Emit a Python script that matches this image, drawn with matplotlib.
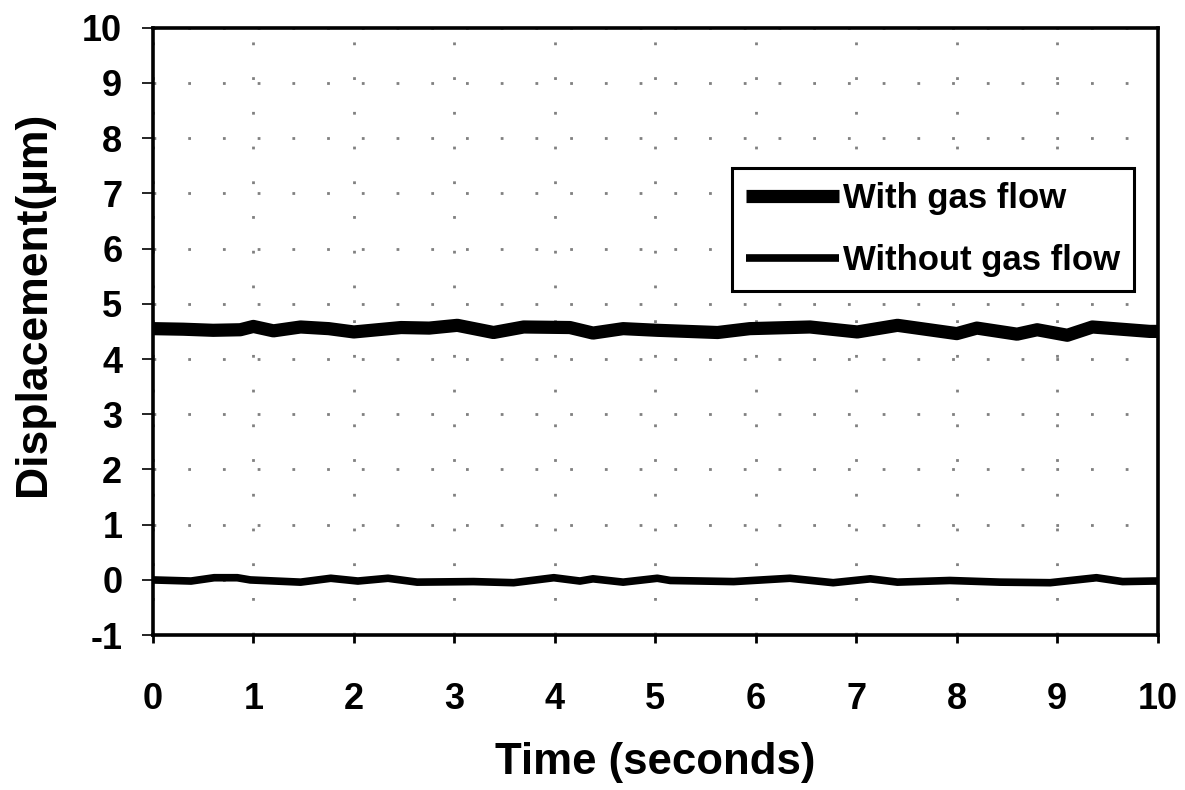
import numpy as np
import matplotlib.pyplot as plt

plt.rcParams['font.family'] = ['Liberation Sans', 'DejaVu Sans']
plt.rcParams['font.weight'] = 'bold'
plt.rcParams['axes.labelweight'] = 'bold'
plt.rcParams['axes.unicode_minus'] = False

# data
t_gas = [0.0, 0.3, 0.6, 0.87, 1.0, 1.2, 1.47, 1.75, 2.0, 2.47, 2.75, 3.03, 3.39,
         3.69, 4.15, 4.38, 4.68, 5.02, 5.62, 5.94, 6.54, 7.01, 7.41, 8.0, 8.2,
         8.6, 8.8, 9.1, 9.35, 9.92, 10.0]
d_gas = [4.55, 4.54, 4.52, 4.53, 4.59, 4.51, 4.58, 4.55, 4.49, 4.57, 4.56, 4.61, 4.48,
         4.58, 4.57, 4.47, 4.55, 4.52, 4.48, 4.55, 4.58, 4.49, 4.61, 4.46, 4.56,
         4.45, 4.53, 4.43, 4.58, 4.5, 4.5]

t_nogas = [0.0, 0.38, 0.61, 0.84, 0.97, 1.47, 1.77, 2.04, 2.34, 2.63, 3.19, 3.59,
           3.99, 4.25, 4.38, 4.68, 5.02, 5.15, 5.78, 6.34, 6.77, 7.14, 7.41, 7.93,
           8.43, 8.93, 9.39, 9.65, 9.95, 10.0]
d_nogas = [0.0, -0.02, 0.04, 0.04, 0.0, -0.04, 0.03, -0.02, 0.03, -0.04, -0.03, -0.05,
           0.04, -0.02, 0.02, -0.04, 0.03, -0.01, -0.03, 0.03, -0.05, 0.02, -0.04, -0.01,
           -0.04, -0.05, 0.04, -0.03, -0.02, -0.02]

xticks = np.arange(0, 11, 1)
yticks = np.arange(-1, 11, 1)

fig = plt.figure(figsize=(11.85, 7.9), dpi=100)
ax = fig.add_axes([0.129, 0.196, 0.848, 0.769])

ax.plot(t_gas, d_gas, color='black', lw=9.5, solid_joinstyle='round',
        solid_capstyle='butt', label='With gas flow')
ax.plot(t_nogas, d_nogas, color='black', lw=5.5, solid_joinstyle='round',
        solid_capstyle='butt', label='Without gas flow')

ax.set_xlim(0, 10)
ax.set_ylim(-1, 10)
ax.set_xticks(xticks)
ax.set_yticks(yticks)
ax.grid(True, color='0.5', lw=2, linestyle=(0, (1, 11.5)))

for s in ax.spines.values():
    s.set_linewidth(2.6)
ax.tick_params(axis='x', direction='out', length=6, width=2, pad=28, labelsize=26)
ax.tick_params(axis='y', direction='out', length=8, width=1.2, pad=14, labelsize=26)

ax.set_xlabel('Time (seconds)', fontsize=31.5, labelpad=18)
ax.set_ylabel('Displacement(\u00b5m)', fontsize=32)
ax.yaxis.set_label_coords(-0.098, 0.545)

leg = ax.legend(loc='upper left', bbox_to_anchor=(0.576, 0.769), borderaxespad=0,
                fontsize=25, handlelength=2.7, handletextpad=0.12, labelspacing=0.85,
                fancybox=False, framealpha=1, edgecolor='black', borderpad=0.4)
leg.get_frame().set_linewidth(2.2)

fig.savefig('out.png', dpi=100)
